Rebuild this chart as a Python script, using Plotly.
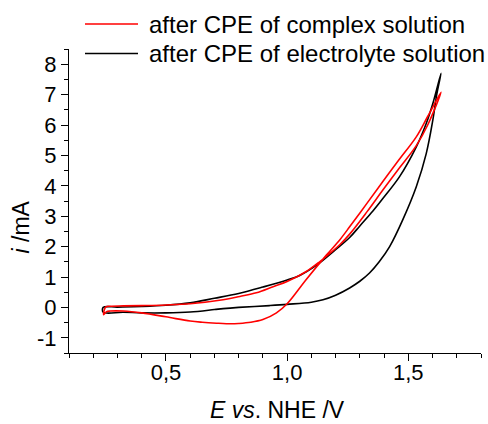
import plotly.graph_objects as go

# ---- data ----
black_E = [0.241, 0.30, 0.40, 0.50, 0.60, 0.70, 0.80, 0.90, 1.00, 1.052, 1.12, 1.20, 1.258, 1.30, 1.354, 1.395, 1.464, 1.533, 1.574, 1.601, 1.635,
           1.618, 1.601, 1.574, 1.533, 1.477, 1.423, 1.38, 1.34, 1.30, 1.258, 1.20, 1.148, 1.10, 1.00, 0.928, 0.80, 0.736, 0.70, 0.60, 0.50, 0.40, 0.324, 0.241, 0.241]
black_i = [0.0, 0.01, 0.03, 0.07, 0.15, 0.30, 0.46, 0.67, 0.90, 1.05, 1.38, 1.90, 2.30, 2.68, 3.17, 3.58, 4.3, 5.28, 6.05, 6.7, 7.7,
           7.03, 6.15, 5.06, 3.97, 2.88, 2.0, 1.5, 1.13, 0.86, 0.64, 0.40, 0.25, 0.17, 0.10, 0.06, 0.0, -0.04, -0.07, -0.15, -0.18, -0.18, -0.16, -0.16, 0.0]

red_E = [0.243, 0.246, 0.252, 0.27, 0.324, 0.40, 0.50, 0.60, 0.736, 0.805, 0.873, 0.942, 1.00, 1.079, 1.134, 1.217, 1.258, 1.33, 1.395, 1.46, 1.533, 1.58, 1.635,
         1.58, 1.533, 1.46, 1.395, 1.33, 1.258, 1.217, 1.162, 1.079, 1.00, 0.956, 0.90, 0.85, 0.80, 0.77, 0.709, 0.65, 0.60, 0.50, 0.40, 0.324, 0.27, 0.255, 0.243]
red_i = [-0.24, -0.08, 0.02, 0.04, 0.05, 0.06, 0.08, 0.12, 0.25, 0.36, 0.48, 0.68, 0.85, 1.18, 1.50, 2.06, 2.41, 3.15, 3.86, 4.55, 5.32, 6.0, 7.08,
         6.28, 5.61, 4.84, 4.14, 3.43, 2.65, 2.22, 1.72, 0.92, 0.12, -0.18, -0.40, -0.49, -0.53, -0.54, -0.52, -0.49, -0.45, -0.31, -0.18, -0.12, -0.12, -0.14, -0.24]

series_names = ["after CPE of complex solution", "after CPE of electrolyte solution"]
series_colors = ["#ff0000", "#000000"]

x_tickvals = [0.5, 1.0, 1.5]
x_ticktext = ["0,5", "1,0", "1,5"]
y_tickvals = [-1, 0, 1, 2, 3, 4, 5, 6, 7, 8]
y_ticktext = ["-1", "0", "1", "2", "3", "4", "5", "6", "7", "8"]

FONT = "Arial, Liberation Sans, sans-serif"

fig = go.Figure()
fig.add_trace(go.Scatter(x=black_E, y=black_i, mode="lines", name=series_names[1],
                         line=dict(color=series_colors[1], width=1.6, shape="spline", smoothing=1.0),
                         showlegend=False))
fig.add_trace(go.Scatter(x=red_E, y=red_i, mode="lines", name=series_names[0],
                         line=dict(color=series_colors[0], width=1.6, shape="spline", smoothing=1.0),
                         showlegend=False))

L, R, T, B = 69, 7, 49, 71
W, H = 488, 424
pw, ph = W - L - R, H - T - B

def px(x):
    return (x - L) / pw

def py(y):
    return (H - B - y) / ph

x_minor = [round(0.1 + 0.1 * k, 1) for k in range(18)]
x_minor = [v for v in x_minor if v not in x_tickvals]
y_minor = [-1.5 + 0.5 * k for k in range(21)]
y_minor = [v for v in y_minor if v not in y_tickvals]

axis_common = dict(showline=True, linecolor="black", linewidth=1.3, ticks="outside", ticklen=7,
                   tickwidth=1.3, tickcolor="black", showgrid=False, zeroline=False, mirror=False,
                   tickfont=dict(family=FONT, size=22, color="black"))

fig.update_xaxes(range=[0.1, 1.8], tickmode="array", tickvals=x_tickvals, ticktext=x_ticktext,
                 ticklabelstandoff=-8,
                 minor=dict(tickmode="array", tickvals=x_minor, ticklen=4, tickwidth=1.2, tickcolor="black", ticks="outside"),
                 **axis_common)
fig.update_yaxes(range=[-1.5, 8.5], tickmode="array", tickvals=y_tickvals, ticktext=y_ticktext,
                 minor=dict(tickmode="array", tickvals=y_minor, ticklen=4, tickwidth=1.2, tickcolor="black", ticks="outside"),
                 **axis_common)

shapes = []
annotations = []
legend_rows = [24, 53.5]
for k, (name, col) in enumerate(zip(series_names, series_colors)):
    yy = py(legend_rows[k])
    shapes.append(dict(type="line", xref="paper", yref="paper", x0=px(85), x1=px(138), y0=yy, y1=yy,
                       line=dict(color=col, width=1.5)))
    annotations.append(dict(xref="paper", yref="paper", x=px(147), y=yy, xanchor="left", yanchor="middle",
                            text=name, showarrow=False, font=dict(family=FONT, size=24, color="black")))

annotations.append(dict(xref="paper", yref="paper", x=px(277.5), y=py(410), xanchor="center", yanchor="middle",
                        text="<i>E</i> <i>vs</i>. NHE /V", showarrow=False,
                        font=dict(family=FONT, size=23, color="black")))
annotations.append(dict(xref="paper", yref="paper", x=px(20), y=py(227.5), xanchor="center", yanchor="middle",
                        text="<i>i</i> /mA", textangle=-90, showarrow=False,
                        font=dict(family=FONT, size=23, color="black")))

fig.update_layout(width=W, height=H, margin=dict(l=L, r=R, t=T, b=B), plot_bgcolor="white",
                  paper_bgcolor="white", shapes=shapes, annotations=annotations, showlegend=False)

fig.write_html("out.html")
